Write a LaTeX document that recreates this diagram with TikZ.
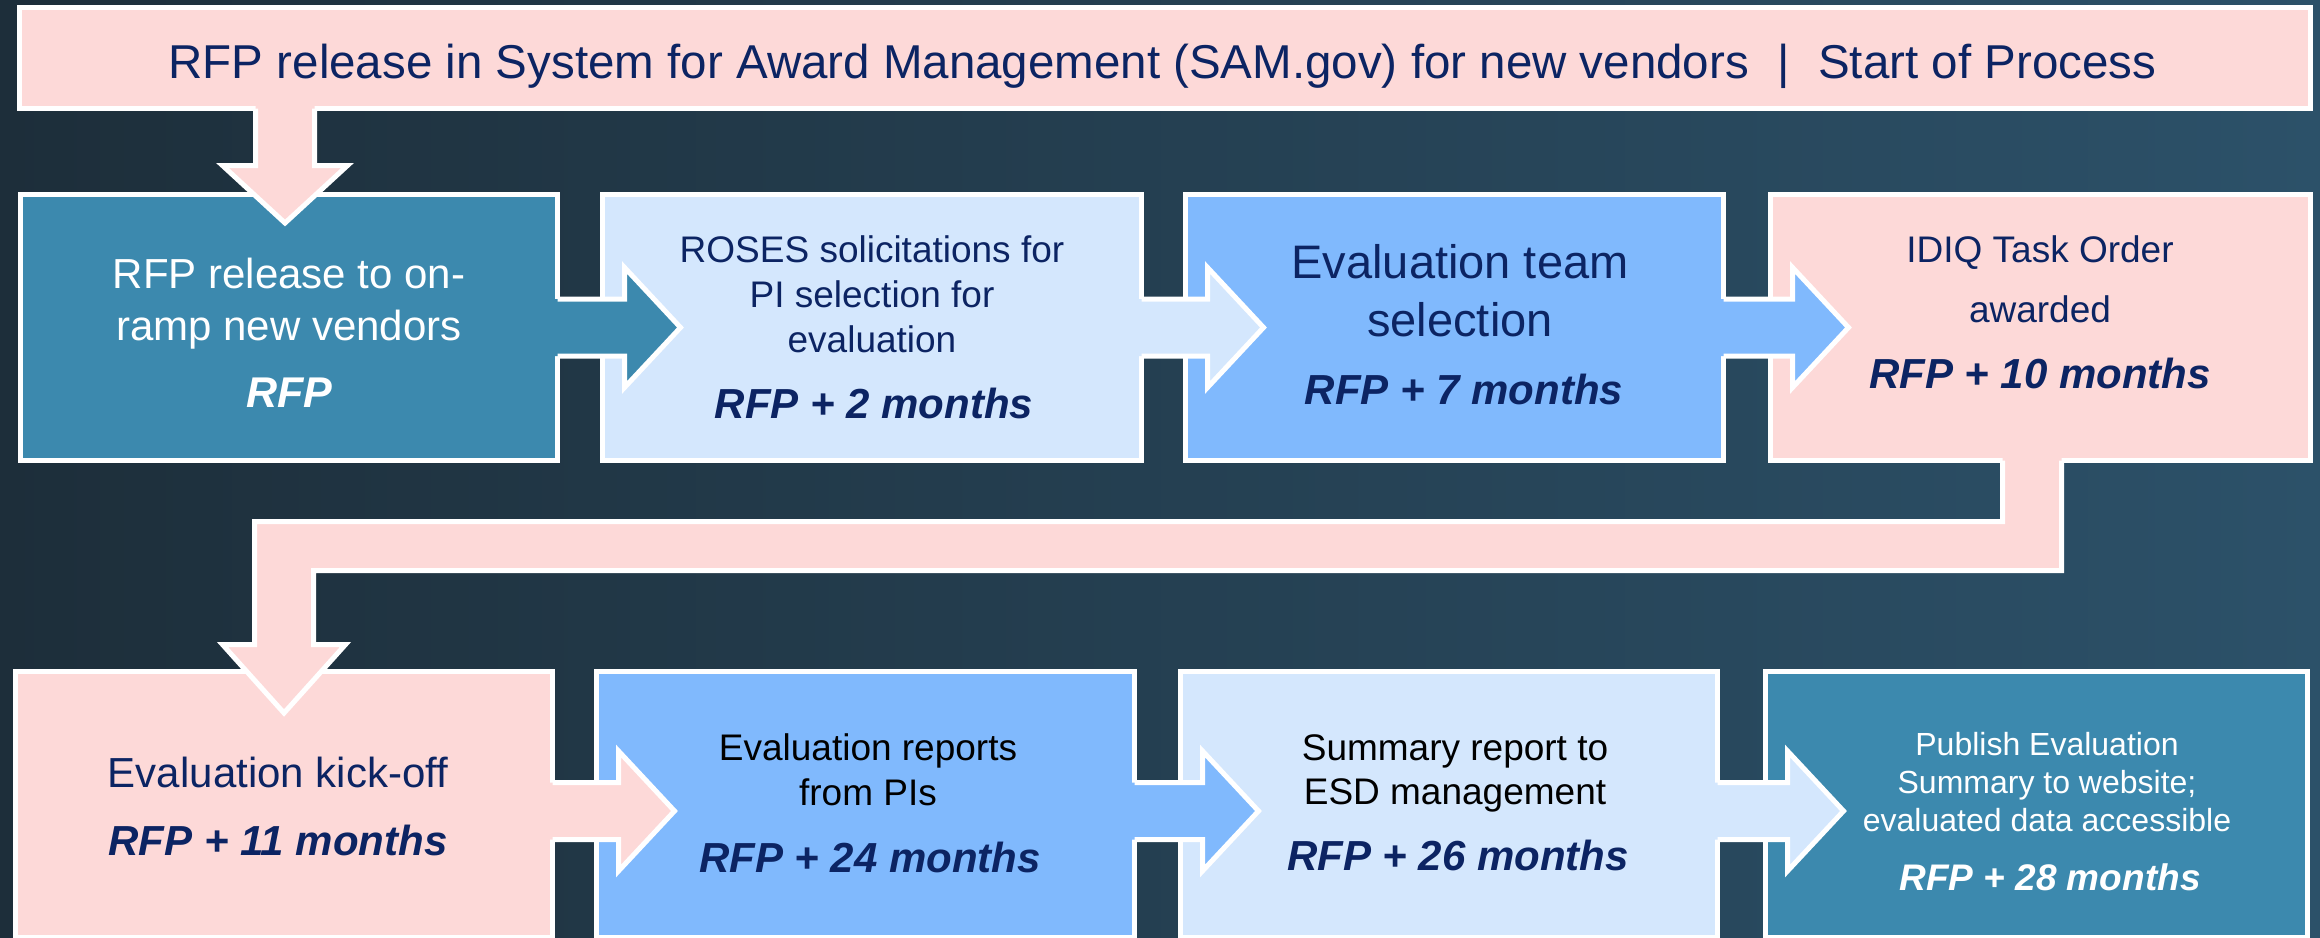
\documentclass[tikz,border=0pt]{standalone}
\usepackage{fontspec}
\setmainfont{Liberation Sans}
\usetikzlibrary{calc}
\definecolor{bgL}{HTML}{1D2E3A}
\definecolor{bgR}{HTML}{2C5169}
\definecolor{cTeal}{HTML}{3C89AE}
\definecolor{cLight}{HTML}{D4E7FD}
\definecolor{cMid}{HTML}{80B9FD}
\definecolor{cPink}{HTML}{FDD9D8}
\definecolor{cNavy}{HTML}{0C2463}
\newcommand\fs[1]{\fontsize{#1}{#1}\selectfont}
% #1 source node, #2 target node, #3 colour, #4 vertical offset of arrow axis
\newcommand\rowarrow[4]{%
  \fill[#3] ($(#1.east)+(-2.6,#4-28.5)$) -- ($(#2.west)+(22,#4-28.5)$) -- ($(#2.west)+(22,#4-60)$)
     -- ($(#2.west)+(78,#4)$) -- ($(#2.west)+(22,#4+60)$) -- ($(#2.west)+(22,#4+28.5)$)
     -- ($(#1.east)+(-2.6,#4+28.5)$) -- cycle;
  \draw[wline] ($(#1.east)+(0,#4-28.5)$) -- ($(#2.west)+(22,#4-28.5)$) -- ($(#2.west)+(22,#4-60)$)
     -- ($(#2.west)+(78,#4)$) -- ($(#2.west)+(22,#4+60)$) -- ($(#2.west)+(22,#4+28.5)$)
     -- ($(#1.east)+(0,#4+28.5)$);
}
\begin{document}
\begin{tikzpicture}[x=1pt,y=-1pt,
  box/.style={draw=white, line width=5pt, inner sep=0pt, outer sep=0pt, rectangle},
  rowone/.style={box, minimum height=266pt},
  rowtwo/.style={box, minimum height=266pt},
  wline/.style={draw=white, line width=5pt, line join=miter},
  lbl/.style={anchor=base, inner sep=0pt, outer sep=0pt},
  navy/.style={lbl, text=cNavy},
  wht/.style={lbl, text=white},
  blk/.style={lbl, text=black},
  bi/.style={font=\fs{#1}\bfseries\itshape},
  rg/.style={font=\fs{#1}}]
\clip (0,0) rectangle (2320,937);
\shade[left color=bgL, right color=bgR] (0,0) rectangle (2320,937);

% banner
\node[box, fill=cPink, minimum width=2291pt, minimum height=101pt] (ban) at (1165,58) {};
% row 1
\node[rowone, fill=cTeal,  minimum width=537pt] (b1) at (289,327.5) {};
\node[rowone, fill=cLight, minimum width=539pt] (b2) at (872,327.5) {};
\node[rowone, fill=cMid,   minimum width=538pt] (b3) at (1454.5,327.5) {};
\node[rowone, fill=cPink,  minimum width=540pt] (b4) at (2040.5,327.5) {};
% row 2
\node[rowtwo, fill=cPink,  minimum width=537pt] (b5) at (284,804.5) {};
\node[rowtwo, fill=cMid,   minimum width=538pt] (b6) at (865.5,804.5) {};
\node[rowtwo, fill=cLight, minimum width=537pt] (b7) at (1449,804.5) {};
\node[rowtwo, fill=cTeal,  minimum width=542pt] (b8) at (2036.5,804.5) {};

% horizontal block arrows
\rowarrow{b1}{b2}{cTeal}{0}
\rowarrow{b2}{b3}{cLight}{0}
\rowarrow{b3}{b4}{cMid}{0}
\rowarrow{b5}{b6}{cPink}{6.5}
\rowarrow{b6}{b7}{cMid}{6.5}
\rowarrow{b7}{b8}{cLight}{6.5}

% banner -> box 1
\fill[cPink] ($(255.5,0 |- ban.south)+(0,-2.6)$) -- (255.5,165.5) -- (222.5,165.5) -- (285,223)
   -- (347.5,165.5) -- (314.5,165.5) -- ($(314.5,0 |- ban.south)+(0,-2.6)$) -- cycle;
\draw[wline] (255.5,0 |- ban.south) -- (255.5,165.5) -- (222.5,165.5) -- (285,223)
   -- (347.5,165.5) -- (314.5,165.5) -- (314.5,0 |- ban.south);

% box 4 -> box 5
\fill[cPink] ($(2002.5,0 |- b4.south)+(0,-2.6)$) -- (2002.5,521.5) -- (254.5,521.5) -- (254.5,644.5)
   -- (222.5,644.5) -- (284,713) -- (345.5,644.5) -- (313.5,644.5) -- (313.5,570.5)
   -- (2061.5,570.5) -- ($(2061.5,0 |- b4.south)+(0,-2.6)$) -- cycle;
\draw[wline] (2002.5,0 |- b4.south) -- (2002.5,521.5) -- (254.5,521.5) -- (254.5,644.5)
   -- (222.5,644.5) -- (284,713) -- (345.5,644.5) -- (313.5,644.5) -- (313.5,570.5)
   -- (2061.5,570.5) -- (2061.5,0 |- b4.south);

% texts
\node[navy, rg=47.5] (tban) at (1162.5,78) {RFP release in System for Award Management (SAM.gov) for new vendors\hspace{0.6em}|\hspace{0.6em}Start of Process};

\node[wht, rg=42] (t1a) at (289,288) {RFP release to on-};
\node[wht, rg=42] (t1b) at (289,340) {ramp new vendors};
\node[wht, bi=43] (t1c) at (289,407) {RFP};

\node[navy, rg=37] (t2a) at (872,262) {ROSES solicitations for};
\node[navy, rg=37] (t2b) at (872,307) {PI selection for};
\node[navy, rg=37] (t2c) at (872,352) {evaluation};
\node[navy, bi=42] (t2d) at (874,418) {RFP + 2 months};

\node[navy, rg=47] (t3a) at (1460,278) {Evaluation team};
\node[navy, rg=47] (t3b) at (1460,336) {selection};
\node[navy, bi=42] (t3c) at (1464,404) {RFP + 7 months};

\node[navy, rg=37] (t4a) at (2040,262) {IDIQ Task Order};
\node[navy, rg=37] (t4b) at (2040,322) {awarded};
\node[navy, bi=42] (t4c) at (2040,388) {RFP + 10 months};

\node[navy, rg=42] (t5a) at (278,787) {Evaluation kick-off};
\node[navy, bi=42] (t5b) at (278,855) {RFP + 11 months};

\node[blk, rg=37] (t6a) at (868,760) {Evaluation reports};
\node[blk, rg=37] (t6b) at (868,805) {from PIs};
\node[navy, bi=42] (t6c) at (870,872) {RFP + 24 months};

\node[blk, rg=37] (t7a) at (1455,760) {Summary report to};
\node[blk, rg=37] (t7b) at (1455,804) {ESD management};
\node[navy, bi=42] (t7c) at (1458,870) {RFP + 26 months};

\node[wht, rg=32] (t8a) at (2047,755) {Publish Evaluation};
\node[wht, rg=32] (t8b) at (2047,793) {Summary to website;};
\node[wht, rg=32] (t8c) at (2047,831) {evaluated data accessible};
\node[wht, bi=37] (t8d) at (2050,890) {RFP + 28 months};
\end{tikzpicture}
\end{document}
